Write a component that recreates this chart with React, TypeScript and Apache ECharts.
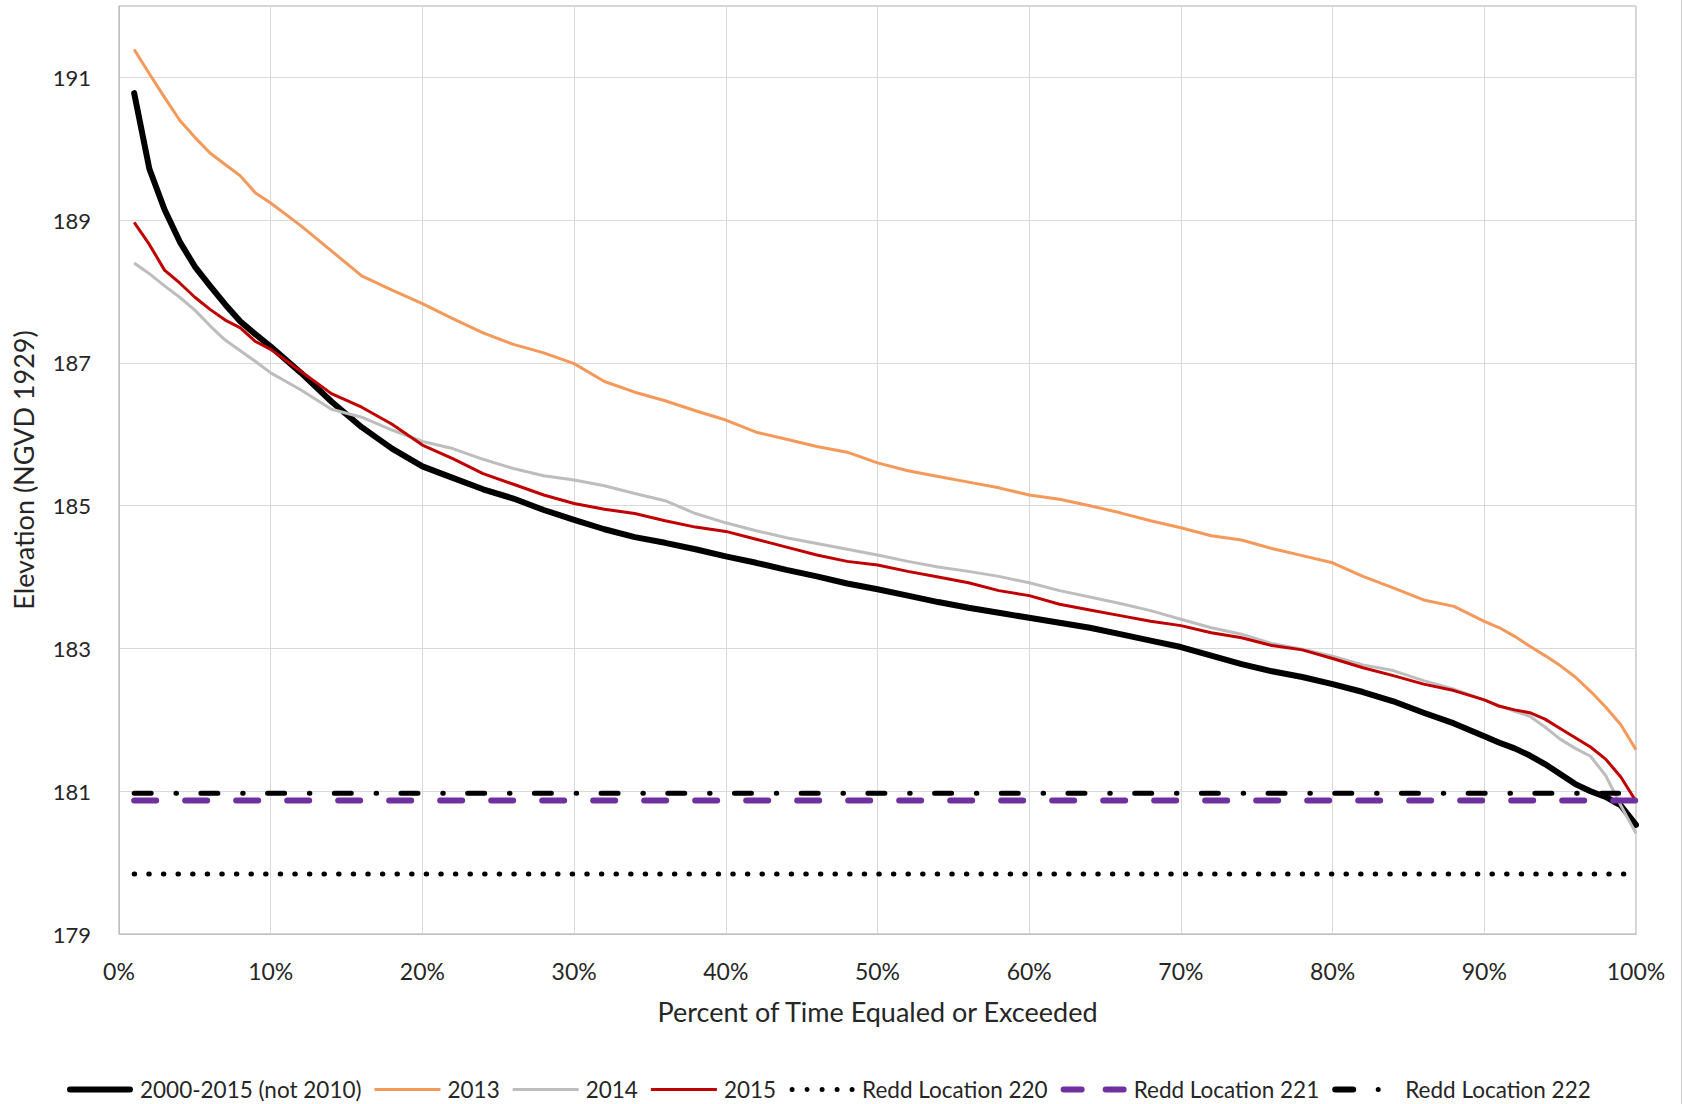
import React, { useEffect, useRef } from "react";
import * as echarts from "echarts";

const X_TITLE = "Percent of Time Equaled or Exceeded";
const Y_TITLE = "Elevation (NGVD 1929)";
const SERIES_NAMES = [
  "2000-2015 (not 2010)",
  "2013",
  "2014",
  "2015",
  "Redd Location 220",
  "Redd Location 221",
  "Redd Location 222",
];

const PCT = [
  1, 2, 3, 4, 5, 6, 7, 8, 9, 10, 12, 14, 16, 18, 20, 22, 24, 26, 28, 30, 32, 34, 36, 38, 40, 42, 44, 46, 48, 50,
  52, 54, 56, 58, 60, 62, 64, 66, 68, 70, 72, 74, 76, 78, 80, 82, 84, 86, 88, 90, 91, 92, 93, 94, 95, 96, 97, 98, 99, 100,
];

const ALL_YEARS = [
  190.78, 189.72, 189.15, 188.7, 188.35, 188.08, 187.82, 187.58, 187.4, 187.23, 186.86, 186.46, 186.1, 185.8, 185.55,
  185.39, 185.23, 185.1, 184.94, 184.8, 184.67, 184.56, 184.48, 184.39, 184.29, 184.2, 184.1, 184.01, 183.91, 183.83,
  183.74, 183.65, 183.57, 183.5, 183.43, 183.36, 183.29, 183.2, 183.11, 183.02, 182.9, 182.78, 182.68, 182.6, 182.5,
  182.39, 182.26, 182.1, 181.95, 181.77, 181.68, 181.6, 181.5, 181.38, 181.24, 181.1, 181.0, 180.92, 180.8, 180.53,
];

const Y2013 = [
  191.39, 191.05, 190.72, 190.4, 190.16, 189.94, 189.78, 189.62, 189.38, 189.24, 188.92, 188.57, 188.22, 188.02, 187.83,
  187.62, 187.42, 187.26, 187.14, 186.99, 186.74, 186.59, 186.47, 186.33, 186.2, 186.03, 185.93, 185.83, 185.75, 185.6,
  185.49, 185.41, 185.33, 185.25, 185.15, 185.09, 185.0, 184.9, 184.79, 184.69, 184.58, 184.52, 184.4, 184.3, 184.2,
  184.01, 183.85, 183.68, 183.59, 183.38, 183.29, 183.17, 183.03, 182.9, 182.76, 182.6, 182.4, 182.18, 181.93, 181.58,
];

const Y2014 = [
  188.4, 188.25, 188.08, 187.92, 187.74, 187.52, 187.32, 187.17, 187.02, 186.86, 186.62, 186.35, 186.24, 186.06, 185.9,
  185.8, 185.65, 185.52, 185.42, 185.36, 185.28, 185.17, 185.07, 184.89, 184.76, 184.65, 184.55, 184.47, 184.39, 184.31,
  184.22, 184.14, 184.08, 184.01, 183.92, 183.81, 183.72, 183.63, 183.53, 183.41, 183.29, 183.2, 183.07, 182.99, 182.89,
  182.77, 182.69, 182.55, 182.43, 182.28, 182.2, 182.12, 182.05, 181.9, 181.73, 181.6, 181.49, 181.22, 180.8, 180.41,
];

const Y2015 = [
  188.97, 188.66, 188.3, 188.12, 187.92, 187.75, 187.6, 187.49, 187.3, 187.19, 186.88, 186.57, 186.38, 186.14, 185.85,
  185.66, 185.45, 185.3, 185.15, 185.03, 184.95, 184.89, 184.79, 184.7, 184.64, 184.53, 184.42, 184.31, 184.22, 184.17,
  184.08, 184.0, 183.92, 183.81, 183.74, 183.62, 183.54, 183.46, 183.38, 183.32, 183.22, 183.15, 183.04, 182.98, 182.86,
  182.73, 182.62, 182.5, 182.41, 182.28, 182.19, 182.14, 182.1, 182.01, 181.88, 181.75, 181.62, 181.45, 181.2, 180.86,
];

const REDD_220 = 179.84;
const REDD_221 = 180.87;
const REDD_222 = 180.97;

const FONT = "Lato, 'Open Sans', sans-serif";
const TEXT_COLOR = "#262626";

// legend icon shapes (drawn in a 66 x 6 box; tiny anchor segments fix the box size)
const ANCHORS = "M0,0 L0.01,0 L0,0.01 Z M66,6 L65.99,6 L66,5.99 Z";
const roundBar = (a: number, b: number) =>
  `M${a + 3},0 L${b - 3},0 A3,3 0 0 1 ${b - 3},6 L${a + 3},6 A3,3 0 0 1 ${a + 3},0 Z`;
const dot = (cx: number, r: number) =>
  `M${cx - r},3 A${r},${r} 0 1 0 ${cx + r},3 A${r},${r} 0 1 0 ${cx - r},3 Z`;
const thinBar = "M0,1.6 L66,1.6 L66,4.4 L0,4.4 Z";
const ICONS = [
  "path://" + ANCHORS + " " + roundBar(0, 66),
  "path://" + ANCHORS + " " + thinBar,
  "path://" + ANCHORS + " " + thinBar,
  "path://" + ANCHORS + " " + thinBar,
  "path://" + ANCHORS + " " + [3, 18, 33, 48, 63].map((c) => dot(c, 2.5)).join(" "),
  "path://" + ANCHORS + " " + roundBar(0, 24) + " " + roundBar(42, 66),
  "path://" + ANCHORS + " " + roundBar(0, 24) + " " + dot(46, 2.5),
];

export default function App() {
  const ref = useRef<HTMLDivElement>(null);

  useEffect(() => {
    const chart = echarts.init(ref.current as HTMLDivElement, null, { renderer: "svg" });
    const toPairs = (ys: number[]) => PCT.map((p, i) => [p, ys[i]]);
    const flat = (v: number) => [
      [PCT[0], v],
      [PCT[PCT.length - 1], v],
    ];
    const lineSeries = (name: string, data: number[][], color: string, width: number, extra: any = {}) => ({
      name,
      type: "line",
      data,
      symbol: "none",
      showSymbol: false,
      itemStyle: { color },
      lineStyle: { color, width, ...extra },
      emphasis: { disabled: true },
    });

    chart.setOption({
      animation: false,
      backgroundColor: "#ffffff",
      textStyle: { fontFamily: FONT },
      grid: {
        left: 119,
        top: 6,
        right: 47,
        bottom: 170,
        show: true,
        borderColor: "#A6A6A6",
        borderWidth: 1,
      },
      xAxis: {
        type: "value",
        min: 0,
        max: 100,
        interval: 10,
        name: X_TITLE,
        nameLocation: "middle",
        nameGap: 64,
        nameTextStyle: { fontSize: 27, color: TEXT_COLOR, fontFamily: FONT },
        axisLine: { show: true, lineStyle: { color: "#BFBFBF", width: 1 } },
        axisTick: { show: false },
        axisLabel: { formatter: "{value}%", margin: 25, fontSize: 23, color: TEXT_COLOR, fontFamily: FONT },
        splitLine: { show: true, lineStyle: { color: "#D9D9D9", width: 1 } },
      },
      yAxis: {
        type: "value",
        min: 179,
        max: 192,
        interval: 2,
        name: Y_TITLE,
        nameLocation: "middle",
        nameGap: 82,
        nameRotate: 90,
        nameTextStyle: { fontSize: 27, color: TEXT_COLOR, fontFamily: FONT },
        axisLine: { show: true, lineStyle: { color: "#BFBFBF", width: 1 } },
        axisTick: { show: false },
        axisLabel: { showMaxLabel: false, margin: 28, fontSize: 22, color: TEXT_COLOR, fontFamily: FONT },
        splitLine: { show: true, lineStyle: { color: "#D9D9D9", width: 1 } },
      },
      legend: {
        left: 62,
        top: 1073,
        itemWidth: 66,
        itemHeight: 6,
        itemGap: 13,
        itemStyle: { borderWidth: 0 },
        textStyle: { fontSize: 22.5, color: TEXT_COLOR, fontFamily: FONT, padding: [0, 0, 0, 2] },
        data: SERIES_NAMES.map((name, i) => ({ name, icon: ICONS[i] })),
      },
      graphic: [
        {
          type: "line",
          shape: { x1: 1681.5, y1: 0, x2: 1681.5, y2: 1104 },
          style: { stroke: "#D0D0D0", lineWidth: 1 },
          silent: true,
        },
      ],
      series: [
        lineSeries(SERIES_NAMES[0], toPairs(ALL_YEARS), "#000000", 6, { cap: "round", join: "round" }),
        lineSeries(SERIES_NAMES[1], toPairs(Y2013), "#F4995A", 3, { join: "round" }),
        lineSeries(SERIES_NAMES[2], toPairs(Y2014), "#BDBDBD", 3, { join: "round" }),
        lineSeries(SERIES_NAMES[3], toPairs(Y2015), "#C00000", 3, { join: "round" }),
        lineSeries(SERIES_NAMES[4], flat(REDD_220), "#000000", 5, { type: [0.5, 14.1], cap: "round" }),
        lineSeries(SERIES_NAMES[5], flat(REDD_221), "#7030A0", 6, { type: [22, 29], cap: "round" }),
        lineSeries(SERIES_NAMES[6], flat(REDD_222), "#000000", 5, { type: [17, 24.8, 0.5, 24.4], cap: "round" }),
      ],
    });
    return () => chart.dispose();
  }, []);

  return <div ref={ref} style={{ position: "absolute", left: 0, top: 0, width: 1683, height: 1104 }} />;
}
